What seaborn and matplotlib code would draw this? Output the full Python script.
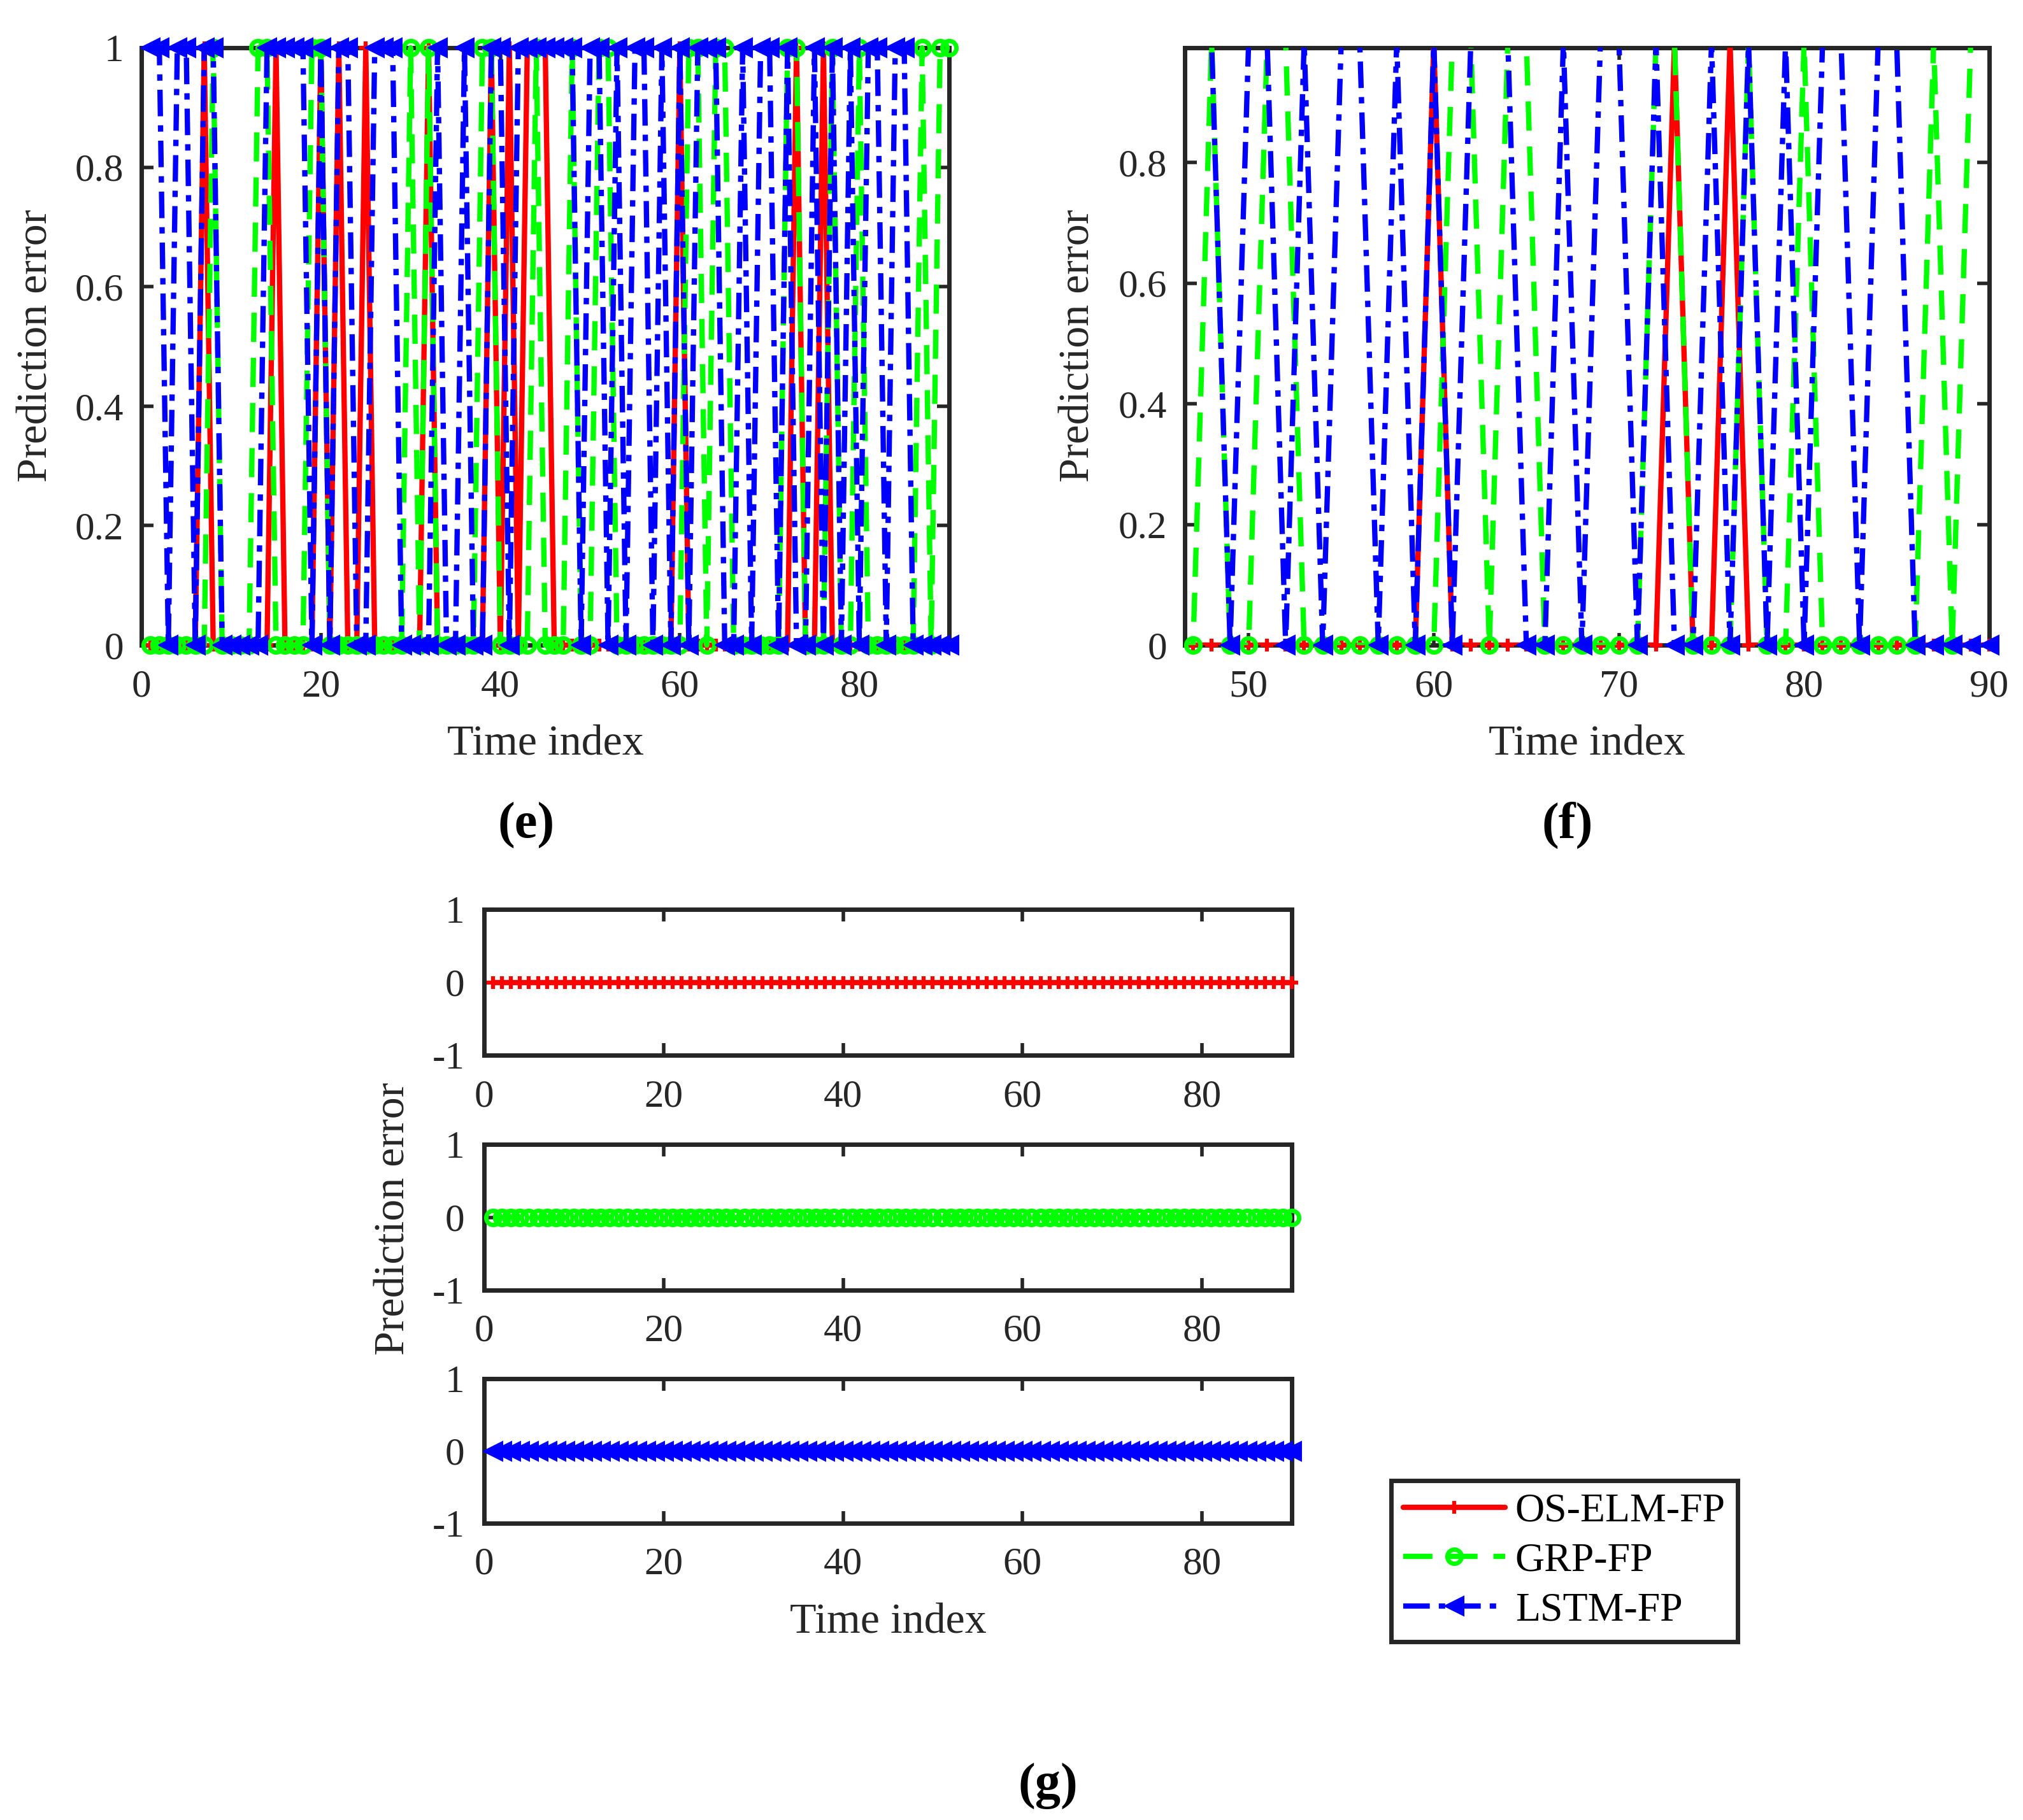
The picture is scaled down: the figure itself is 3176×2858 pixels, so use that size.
import numpy as np
import pandas as pd
import seaborn as sns
import matplotlib.pyplot as plt
from matplotlib.lines import Line2D

# prediction error (0 = correct, 1 = wrong) per time index
time_index = list(range(1, 91))

os_elm_fp = [0, 0, 0, 0, 0, 0, 1, 0, 0, 0,
             0, 0, 0, 0, 1, 0, 0, 0, 0, 1,
             0, 1, 0, 0, 1, 0, 0, 0, 0, 0,
             0, 1, 0, 0, 0, 0, 0, 0, 1, 0,
             1, 0, 1, 1, 1, 0, 0, 0, 0, 0,
             0, 0, 0, 0, 0, 0, 0, 0, 0, 1,
             0, 0, 0, 0, 0, 0, 0, 0, 0, 0,
             0, 0, 1, 0, 0, 1, 0, 0, 0, 0,
             0, 0, 0, 0, 0, 0, 0, 0, 0, 0]

grp_fp = [0, 0, 0, 0, 0, 0, 0, 1, 0, 0,
          0, 0, 1, 1, 0, 0, 0, 0, 1, 1,
          0, 0, 0, 0, 0, 0, 0, 0, 0, 1,
          0, 1, 0, 0, 0, 0, 0, 1, 1, 0,
          0, 0, 0, 1, 0, 0, 0, 1, 0, 0,
          1, 1, 0, 0, 0, 0, 0, 0, 0, 0,
          1, 1, 0, 1, 1, 0, 0, 0, 0, 0,
          0, 1, 1, 0, 0, 0, 1, 0, 0, 1,
          0, 0, 0, 0, 0, 0, 1, 0, 1, 1]

lstm_fp = [1, 1, 0, 1, 1, 0, 1, 1, 0, 0,
           0, 0, 0, 1, 1, 1, 1, 1, 0, 1,
           0, 1, 1, 0, 0, 1, 1, 1, 0, 0,
           0, 0, 1, 0, 0, 1, 0, 0, 1, 1,
           0, 1, 1, 1, 1, 1, 1, 1, 0, 1,
           1, 0, 1, 0, 1, 1, 0, 1, 0, 1,
           0, 1, 1, 1, 0, 0, 1, 0, 1, 1,
           0, 1, 0, 0, 1, 0, 1, 0, 1, 0,
           1, 1, 0, 1, 1, 0, 0, 0, 0, 0]

# panel (g): the fault-free case, every error is zero
g_os_elm_fp = [0] * 90
g_grp_fp = [0] * 90
g_lstm_fp = [0] * 90

labels = ['OS-ELM-FP', 'GRP-FP', 'LSTM-FP']
estilos = {
    'OS-ELM-FP': dict(color='#ff0000', linestyle='-', marker='+', markersize=14,
                      markeredgewidth=4.5, markeredgecolor='#ff0000', markerfacecolor='#ff0000'),
    'GRP-FP': dict(color='#00ff00', linestyle=(0, (5.5, 3)), marker='o', markersize=16,
                   markeredgewidth=5, markeredgecolor='#00ff00', markerfacecolor='none'),
    'LSTM-FP': dict(color='#0000ff', linestyle=(0, (5, 1.7, 1.2, 1.7)), marker='<', markersize=21,
                    markeredgewidth=1.5, markeredgecolor='#0000ff', markerfacecolor='#0000ff'),
}
LW = 6
GRIS = '#262626'
TICK = 44
LABEL = 49

sns.set_theme(style='ticks')
plt.rcParams['font.family'] = ['Liberation Serif', 'DejaVu Serif']
plt.rcParams['axes.unicode_minus'] = False
plt.rcParams['text.color'] = 'black'

W, H = 3176, 2858
fig = plt.figure(figsize=(W / 100, H / 100), dpi=100)


def caja(x0, y0, x1, y1):
    # pixel box (top-left origin) -> add_axes rect
    return [x0 / W, 1 - y1 / H, (x1 - x0) / W, (y1 - y0) / H]


def pintar(ax, valores, nombre, clip=False, con_marcas=True):
    df = pd.DataFrame({'t': time_index, 'v': valores})
    kw = dict(estilos[nombre])
    if not con_marcas:
        kw.pop('marker')
    sns.lineplot(data=df, x='t', y='v', ax=ax, errorbar=None, linewidth=LW,
                 clip_on=clip, zorder=3, **kw)


def marcas_visibles(ax, valores, nombre, desde):
    # markers only for points that fall inside the zoomed limits
    df = pd.DataFrame({'t': time_index, 'v': valores})
    df = df[(df['v'] == 0) & (df['t'] >= desde)]
    kw = dict(estilos[nombre])
    kw['linestyle'] = 'none'
    sns.lineplot(data=df, x='t', y='v', ax=ax, errorbar=None, linewidth=LW,
                 clip_on=False, zorder=3, **kw)


def formato(ax, xlim, ylim, xticks, yticks, xpad=27, ypad=20):
    ax.set_xlim(xlim)
    ax.set_ylim(ylim)
    ax.set_xticks(xticks)
    ax.set_yticks(yticks)
    ax.set_xticklabels(['%g' % v for v in xticks])
    ax.set_yticklabels(['%g' % v for v in yticks])
    ax.tick_params(axis='both', direction='in', length=14, width=4, top=True, right=True,
                   labelsize=TICK, colors=GRIS, labelcolor=GRIS)
    ax.tick_params(axis='x', pad=xpad)
    ax.tick_params(axis='y', pad=ypad)
    for s in ax.spines.values():
        s.set_visible(True)
        s.set_linewidth(5)
        s.set_color(GRIS)
    ax.set_xlabel('')
    ax.set_ylabel('')
    ax.set_facecolor('white')


series = [os_elm_fp, grp_fp, lstm_fp]

# (e) whole test run
ax_e = fig.add_axes(caja(222, 75, 1490, 1013))
for vals, nombre in zip(series, labels):
    pintar(ax_e, vals, nombre, clip=False)
formato(ax_e, (0, 90), (0, 1), [0, 20, 40, 60, 80], [0, 0.2, 0.4, 0.6, 0.8, 1])
fig.text(856 / W, 1 - 1169 / H, 'Time index', fontsize=LABEL, ha='center', va='center', color=GRIS)
fig.text(57 / W, 1 - 543 / H, 'Prediction error', fontsize=LABEL, ha='center', va='center',
         rotation=90, color=GRIS)

# (f) zoom on the second half
ax_f = fig.add_axes(caja(1860, 75, 3123, 1013))
for vals, nombre in zip(series, labels):
    pintar(ax_f, vals, nombre, clip=True, con_marcas=False)
    marcas_visibles(ax_f, vals, nombre, 47)
formato(ax_f, (46.55, 90), (0, 0.99), [50, 60, 70, 80, 90], [0, 0.2, 0.4, 0.6, 0.8])
fig.text(2491 / W, 1 - 1169 / H, 'Time index', fontsize=LABEL, ha='center', va='center', color=GRIS)
fig.text(1693 / W, 1 - 543 / H, 'Prediction error', fontsize=LABEL, ha='center', va='center',
         rotation=90, color=GRIS)

# (g) one strip per method
filas_g = [(1428, 1657), (1797, 2026), (2165, 2392)]
datos_g = [g_os_elm_fp, g_grp_fp, g_lstm_fp]
for (y0, y1), vals, nombre in zip(filas_g, datos_g, labels):
    ax = fig.add_axes(caja(760, y0, 2028, y1))
    pintar(ax, vals, nombre, clip=False)
    formato(ax, (0, 90), (-1, 1), [0, 20, 40, 60, 80], [-1, 0, 1], ypad=22)
fig.text(1394 / W, 1 - 2548 / H, 'Time index', fontsize=LABEL, ha='center', va='center', color=GRIS)
fig.text(618 / W, 1 - 1914 / H, 'Prediction error', fontsize=LABEL, ha='center', va='center',
         rotation=90, color=GRIS)

handles = []
for nombre in labels:
    handles.append(Line2D([], [], linewidth=LW, **estilos[nombre]))
ley = fig.legend(handles, labels, loc='upper left', bbox_to_anchor=(2184 / W, 1 - 2325 / H),
                 bbox_transform=fig.transFigure, borderaxespad=0, frameon=True, fancybox=False,
                 framealpha=1, edgecolor=GRIS, numpoints=1, handlelength=2.5,
                 handletextpad=0.25, labelspacing=0.3, borderpad=0.3, fontsize=46)
ley.get_frame().set_linewidth(5)

fig.text(826 / W, 1 - 1296 / H, '(e)', fontsize=58, fontweight='bold', ha='center', va='center')
fig.text(2461 / W, 1 - 1296 / H, '(f)', fontsize=58, fontweight='bold', ha='center', va='center')
fig.text(1645 / W, 1 - 2805 / H, '(g)', fontsize=58, fontweight='bold', ha='center', va='center')

plt.savefig('out.png', dpi=100, facecolor='white')
plt.close()
